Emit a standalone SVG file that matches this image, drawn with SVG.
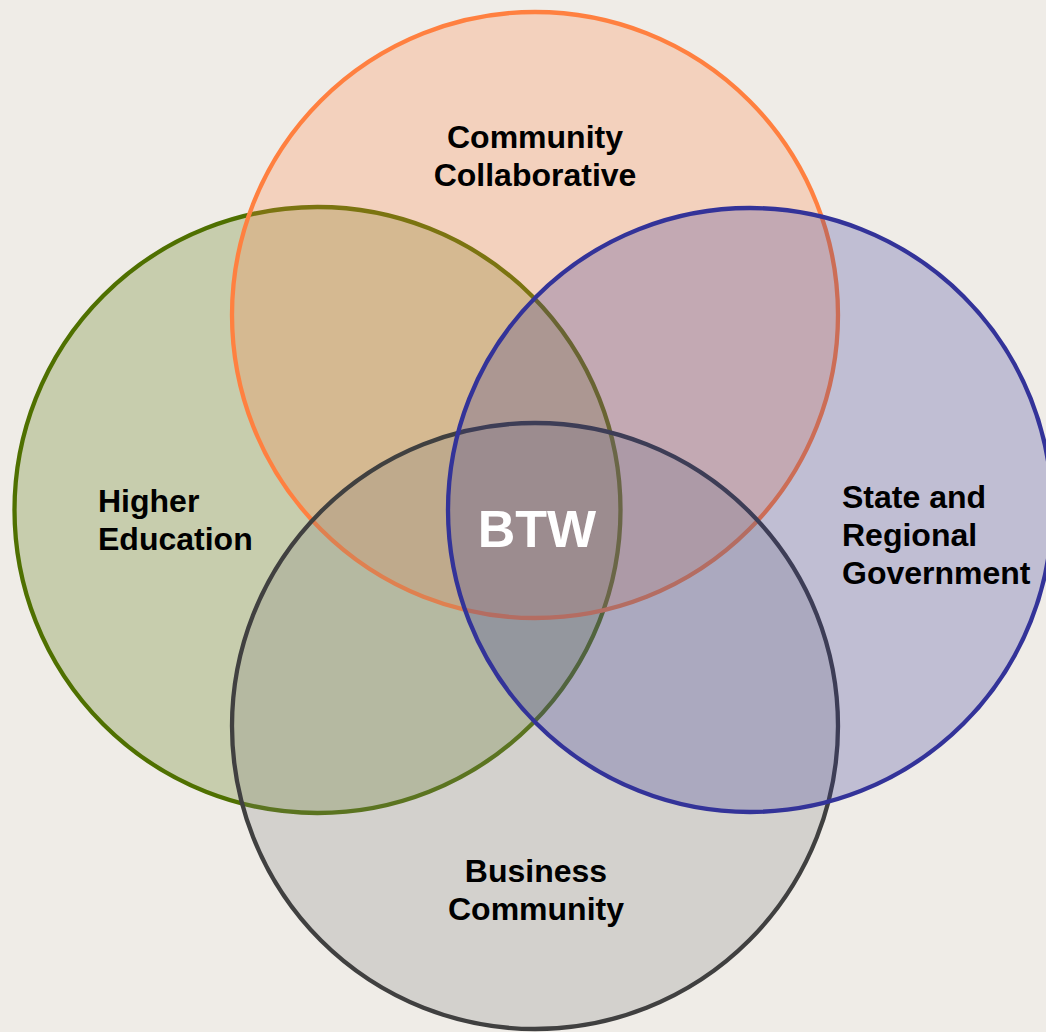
<svg xmlns="http://www.w3.org/2000/svg" width="1046" height="1032" viewBox="0 0 1046 1032">
<style>
.c{stroke-width:4.3}
.t{font-family:"Liberation Sans",Arial,sans-serif;font-weight:bold;font-size:32px;fill:#000}
.m{text-anchor:middle}
.btw{font-family:"Liberation Sans",Arial,sans-serif;font-weight:bold;font-size:52px;fill:#fff;text-anchor:middle}
</style>
<rect width="1046" height="1032" fill="#EFECE7"/>
<g id="higher-education">
<circle class="c" cx="317.5" cy="510" r="303" fill="#4F7000" fill-opacity="0.25" stroke="#4F7000"/>
</g>
<g id="community-collaborative">
<circle class="c" cx="535" cy="315" r="303" fill="#FF8040" fill-opacity="0.25" stroke="#FF8040"/>
</g>
<g id="business-community">
<circle class="c" cx="535" cy="726" r="303" fill="#808080" fill-opacity="0.25" stroke="#404040"/>
</g>
<g id="state-regional-government">
<circle class="c" cx="750" cy="510" r="302" fill="#333399" fill-opacity="0.25" stroke="#333399"/>
</g>
<g id="labels">
<text class="t m" x="535" y="148">Community</text>
<text class="t m" x="535" y="186">Collaborative</text>
<text class="t" x="98" y="512">Higher</text>
<text class="t" x="98" y="550">Education</text>
<text class="t" x="842" y="508">State and</text>
<text class="t" x="842" y="546">Regional</text>
<text class="t" x="842" y="584">Government</text>
<text class="t m" x="536" y="882">Business</text>
<text class="t m" x="536" y="920">Community</text>
<text class="btw" x="537" y="547">BTW</text>
</g>
<g id="connectors"/>
</svg>
